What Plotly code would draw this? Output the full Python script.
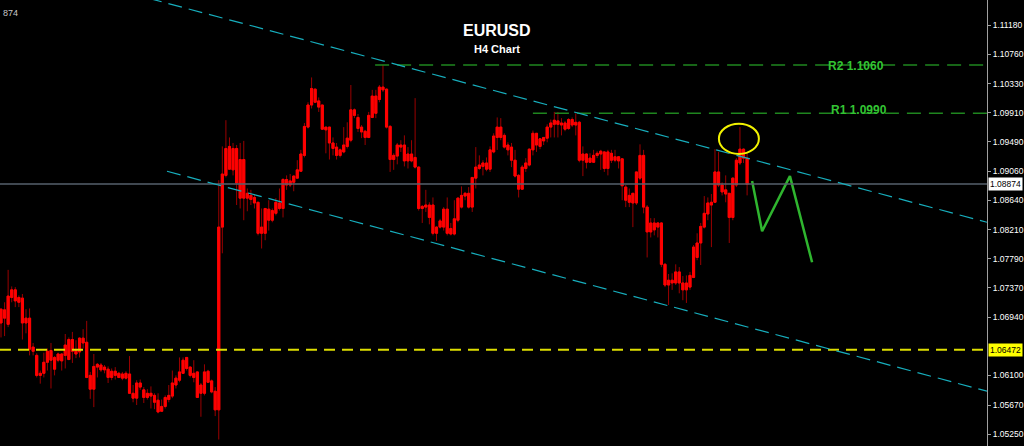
import plotly.graph_objects as go

# ---------------- data ----------------
opens = [
 1.0686,1.0705,1.0684,1.0723,1.0734,1.0716,1.0722,1.0686,1.0693,1.0645,
 1.0639,1.0610,1.0613,1.0629,1.0646,1.0636,1.0632,1.0641,1.0639,1.0633,
 1.0662,1.0646,1.0644,1.0664,1.0658,1.0610,1.0590,1.0622,1.0625,1.0618,
 1.0619,1.0607,1.0616,1.0613,1.0606,1.0613,1.0612,1.0584,1.0577,1.0599,
 1.0589,1.0578,1.0584,1.0581,1.0574,1.0558,1.0565,1.0575,1.0580,1.0596,
 1.0603,1.0613,1.0636,1.0622,1.0607,1.0615,1.0584,1.0584,1.0616,1.0602,
 1.0587,1.0560,1.0825,1.0900,1.0942,1.0908,1.0939,1.0867,1.0923,1.0867,
 1.0871,1.0868,1.0861,1.0816,1.0816,1.0851,1.0835,1.0845,1.0860,1.0852,
 1.0894,1.0886,1.0890,1.0896,1.0906,1.0929,1.0970,1.1002,1.1025,1.1008,
 1.1002,1.0966,1.0970,1.0947,1.0941,1.0929,1.0934,1.0942,1.0951,1.0995,
 1.0984,1.0970,1.0964,1.0955,1.0984,1.1015,1.1010,1.1028,1.1025,1.0971,
 1.0923,1.0928,1.0944,1.0944,1.0921,1.0931,1.0926,1.0912,1.0852,1.0854,
 1.0857,1.0857,1.0816,1.0825,1.0825,1.0851,1.0815,1.0815,1.0835,1.0854,
 1.0870,1.0874,1.0854,1.0896,1.0910,1.0913,1.0918,1.0909,1.0934,1.0955,
 1.0970,1.0958,1.0944,1.0941,1.0922,1.0900,1.0880,1.0910,1.0915,1.0937,
 1.0961,1.0942,1.0950,1.0954,1.0970,1.0974,1.0979,1.0973,1.0976,1.0968,
 1.0981,1.0973,1.0977,1.0922,1.0931,1.0919,1.0919,1.0929,1.0931,1.0934,
 1.0910,1.0932,1.0922,1.0927,1.0924,1.0883,1.0861,1.0874,1.0860,1.0896,
 1.0929,1.0854,1.0818,1.0831,1.0825,1.0831,1.0771,1.0741,1.0748,1.0744,
 1.0760,1.0744,1.0734,1.0738,1.0752,1.0781,1.0802,1.0825,1.0844,1.0857,
 1.0861,1.0905,1.0886,1.0879,1.0874,1.0839,1.0886,1.0918,1.0938,1.0925]
highs = [
 1.0707,1.0716,1.0763,1.0739,1.0738,1.0726,1.0728,1.0706,1.0707,1.0657,
 1.0642,1.0617,1.0643,1.0649,1.0657,1.0638,1.0643,1.0642,1.0670,1.0665,
 1.0673,1.0661,1.0665,1.0677,1.0689,1.0615,1.0641,1.0628,1.0628,1.0625,
 1.0623,1.0620,1.0622,1.0615,1.0615,1.0616,1.0638,1.0596,1.0603,1.0604,
 1.0593,1.0590,1.0594,1.0584,1.0584,1.0575,1.0581,1.0596,1.0617,1.0610,
 1.0636,1.0636,1.0636,1.0623,1.0632,1.0616,1.0599,1.0626,1.0618,1.0604,
 1.0593,1.0893,1.0942,1.0980,1.0955,1.0947,1.0944,1.0947,1.0950,1.0881,
 1.0879,1.0873,1.0861,1.0852,1.0852,1.0864,1.0852,1.0867,1.0881,1.0896,
 1.0900,1.0902,1.0900,1.0922,1.0937,1.0976,1.1006,1.1042,1.1026,1.1013,
 1.1002,1.0970,1.0970,1.0955,1.0947,1.0939,1.0970,1.0977,1.1031,1.0997,
 1.0989,1.0973,1.0966,1.0992,1.1024,1.1024,1.1031,1.1060,1.1026,1.0973,
 1.0932,1.0947,1.0951,1.0958,1.0941,1.0951,1.1012,1.0913,1.0857,1.0879,
 1.0861,1.0868,1.0826,1.0837,1.0854,1.0868,1.0831,1.0864,1.0868,1.0884,
 1.0876,1.0883,1.0897,1.0941,1.0929,1.0922,1.0926,1.0942,1.0961,1.0984,
 1.0983,1.0961,1.0948,1.0947,1.0937,1.0902,1.0915,1.0925,1.0939,1.0965,
 1.0961,1.0954,1.0955,1.0974,1.0981,1.0992,1.0992,1.0983,1.0979,1.0983,
 1.0984,1.0990,1.0979,1.0942,1.0932,1.0932,1.0937,1.0935,1.0937,1.0935,
 1.0937,1.0937,1.0937,1.0928,1.0925,1.0886,1.0881,1.0874,1.0905,1.0945,
 1.0937,1.0857,1.0838,1.0838,1.0832,1.0832,1.0773,1.0757,1.0758,1.0771,
 1.0767,1.0754,1.0755,1.0760,1.0799,1.0816,1.0831,1.0870,1.0868,1.0873,
 1.0938,1.0934,1.0890,1.0900,1.0874,1.0897,1.0925,1.0970,1.0939,1.0932]
lows = [
 1.0665,1.0667,1.0680,1.0716,1.0709,1.0709,1.0662,1.0671,1.0639,1.0639,
 1.0607,1.0598,1.0607,1.0617,1.0591,1.0610,1.0629,1.0617,1.0620,1.0632,
 1.0628,1.0635,1.0636,1.0649,1.0606,1.0576,1.0564,1.0607,1.0615,1.0613,
 1.0599,1.0603,1.0604,1.0606,1.0603,1.0604,1.0584,1.0571,1.0567,1.0589,
 1.0570,1.0575,1.0562,1.0561,1.0555,1.0557,1.0562,1.0571,1.0577,1.0591,
 1.0600,1.0612,1.0617,1.0607,1.0600,1.0578,1.0550,1.0581,1.0599,1.0584,
 1.0551,1.0517,1.0787,1.0897,1.0908,1.0900,1.0857,1.0852,1.0835,1.0848,
 1.0857,1.0852,1.0813,1.0794,1.0806,1.0820,1.0832,1.0842,1.0849,1.0839,
 1.0879,1.0883,1.0877,1.0896,1.0905,1.0926,1.0968,1.0997,1.1005,1.0992,
 1.0966,1.0932,1.0923,1.0929,1.0923,1.0926,1.0932,1.0939,1.0948,1.0983,
 1.0963,1.0954,1.0944,1.0954,1.0983,1.0983,1.1006,1.1021,1.0968,1.0905,
 1.0908,1.0916,1.0934,1.0913,1.0910,1.0919,1.0910,1.0849,1.0831,1.0847,
 1.0829,1.0813,1.0805,1.0823,1.0820,1.0813,1.0813,1.0813,1.0832,1.0852,
 1.0864,1.0852,1.0847,1.0881,1.0908,1.0900,1.0906,1.0905,1.0932,1.0937,
 1.0951,1.0939,1.0929,1.0912,1.0897,1.0868,1.0879,1.0905,1.0913,1.0929,
 1.0934,1.0938,1.0944,1.0948,1.0955,1.0955,1.0955,1.0958,1.0964,1.0966,
 1.0970,1.0958,1.0919,1.0899,1.0910,1.0918,1.0918,1.0925,1.0908,1.0905,
 1.0900,1.0918,1.0919,1.0910,1.0864,1.0854,1.0854,1.0825,1.0857,1.0893,
 1.0845,1.0781,1.0810,1.0813,1.0810,1.0767,1.0738,1.0712,1.0734,1.0741,
 1.0729,1.0719,1.0715,1.0734,1.0751,1.0777,1.0770,1.0823,1.0835,1.0796,
 1.0860,1.0883,1.0871,1.0861,1.0802,1.0835,1.0883,1.0915,1.0918,1.0871]
closes = [
 1.0706,1.0693,1.0725,1.0734,1.0718,1.0723,1.0686,1.0693,1.0648,1.0651,
 1.0610,1.0613,1.0629,1.0645,1.0632,1.0619,1.0641,1.0631,1.0654,1.0662,
 1.0645,1.0641,1.0664,1.0657,1.0607,1.0590,1.0623,1.0626,1.0618,1.0622,
 1.0607,1.0616,1.0610,1.0607,1.0612,1.0606,1.0584,1.0577,1.0599,1.0593,
 1.0578,1.0584,1.0580,1.0571,1.0557,1.0565,1.0578,1.0581,1.0599,1.0606,
 1.0615,1.0632,1.0620,1.0610,1.0613,1.0578,1.0596,1.0615,1.0600,1.0586,
 1.0560,1.0825,1.0902,1.0939,1.0909,1.0939,1.0889,1.0923,1.0867,1.0874,
 1.0865,1.0860,1.0816,1.0825,1.0852,1.0835,1.0849,1.0861,1.0852,1.0894,
 1.0886,1.0892,1.0899,1.0908,1.0931,1.0971,1.1002,1.1026,1.1006,1.0999,
 1.0967,1.0970,1.0947,1.0939,1.0929,1.0937,1.0944,1.0954,1.0995,1.0987,
 1.0968,1.0963,1.0955,1.0987,1.1015,1.0990,1.1028,1.1024,1.0970,1.0923,
 1.0929,1.0944,1.0941,1.0921,1.0931,1.0921,1.0912,1.0852,1.0855,1.0857,
 1.0839,1.0816,1.0825,1.0834,1.0851,1.0816,1.0823,1.0837,1.0867,1.0871,
 1.0874,1.0854,1.0897,1.0912,1.0915,1.0918,1.0909,1.0937,1.0957,1.0970,
 1.0955,1.0941,1.0937,1.0922,1.0899,1.0880,1.0912,1.0918,1.0938,1.0961,
 1.0944,1.0953,1.0955,1.0970,1.0976,1.0980,1.0974,1.0976,1.0967,1.0981,
 1.0973,1.0977,1.0922,1.0931,1.0919,1.0925,1.0929,1.0932,1.0935,1.0910,
 1.0934,1.0922,1.0927,1.0921,1.0885,1.0864,1.0871,1.0860,1.0905,1.0929,
 1.0854,1.0818,1.0831,1.0821,1.0831,1.0771,1.0741,1.0748,1.0744,1.0760,
 1.0744,1.0734,1.0744,1.0755,1.0796,1.0802,1.0826,1.0845,1.0860,1.0861,
 1.0905,1.0886,1.0876,1.0873,1.0839,1.0896,1.0922,1.0938,1.0925,1.0887]

tick_values = [1.11180, 1.10760, 1.10330, 1.09910, 1.09490, 1.09060, 1.08640,
               1.08210, 1.07790, 1.07370, 1.06940, 1.06100, 1.05670, 1.05250]
current_price = 1.08874
support_price = 1.06472
r2_price = 1.1060
r1_price = 1.0990
r2_start_bar = 104.8
r1_start_bar = 149.0
upper_channel_x = [41.2, 276.2]
upper_channel_y = [1.1157, 1.0832]
lower_channel_x = [46.5, 276.2]
lower_channel_y = [1.0906, 1.0587]
circle_x = [201.1, 212.3]
circle_y = [1.0931, 1.0975]
forecast_x = [210.4, 213.2, 221.0, 227.2]
forecast_y = [1.0892, 1.0819, 1.0899, 1.0774]
corner_label = "874"

n = len(opens)
if not (len(highs) == len(lows) == len(closes) == n):
    raise SystemExit(f"length mismatch {len(opens)} {len(highs)} {len(lows)} {len(closes)}")
bars = list(range(n))

X_RANGE = [-0.28, 276.2]
Y_RANGE = [1.05076, 1.11543]
PLOT_W, PLOT_H = 987, 446

def px(xp):
    return xp / PLOT_W

def py(yp):
    return 1 - yp / PLOT_H

fig = go.Figure()

# wicks (dark red)
fig.add_trace(go.Candlestick(
    x=bars, open=opens, high=highs, low=lows, close=closes,
    increasing=dict(line=dict(color="#9a0000", width=1), fillcolor="#9a0000"),
    decreasing=dict(line=dict(color="#9a0000", width=1), fillcolor="#9a0000"),
    whiskerwidth=0, showlegend=False, hoverinfo="skip"))

# bodies (bright red)
body_hi = [max(o, c) for o, c in zip(opens, closes)]
body_lo = [min(o, c) for o, c in zip(opens, closes)]
fig.add_trace(go.Candlestick(
    x=bars, open=opens, high=body_hi, low=body_lo, close=closes,
    increasing=dict(line=dict(color="#ff0000", width=1), fillcolor="#ff0000"),
    decreasing=dict(line=dict(color="#ff0000", width=1), fillcolor="#ff0000"),
    whiskerwidth=0, showlegend=False, hoverinfo="skip"))

# forecast zigzag
fig.add_trace(go.Scatter(x=forecast_x, y=forecast_y, mode="lines",
                         line=dict(color="#2fb52f", width=2.5),
                         showlegend=False, hoverinfo="skip"))

shapes = []
shapes.append(dict(type="line", xref="paper", yref="y", x0=0, x1=1,
                   y0=current_price, y1=current_price,
                   line=dict(color="#56616c", width=1.5)))
shapes.append(dict(type="line", xref="paper", yref="y", x0=0, x1=1,
                   y0=support_price, y1=support_price,
                   line=dict(color="#dede00", width=2, dash="11px,7px")))
shapes.append(dict(type="line", xref="x", yref="y", x0=r2_start_bar, x1=X_RANGE[1],
                   y0=r2_price, y1=r2_price,
                   line=dict(color="#1f861f", width=1.5, dash="14px,8px")))
shapes.append(dict(type="line", xref="x", yref="y", x0=r1_start_bar, x1=X_RANGE[1],
                   y0=r1_price, y1=r1_price,
                   line=dict(color="#1f861f", width=1.5, dash="14px,8px")))
shapes.append(dict(type="line", xref="x", yref="y",
                   x0=upper_channel_x[0], x1=upper_channel_x[1],
                   y0=upper_channel_y[0], y1=upper_channel_y[1],
                   line=dict(color="#17aebd", width=1.2, dash="14px,7px")))
shapes.append(dict(type="line", xref="x", yref="y",
                   x0=lower_channel_x[0], x1=lower_channel_x[1],
                   y0=lower_channel_y[0], y1=lower_channel_y[1],
                   line=dict(color="#17aebd", width=1.2, dash="14px,7px")))
shapes.append(dict(type="circle", xref="x", yref="y",
                   x0=circle_x[0], x1=circle_x[1], y0=circle_y[0], y1=circle_y[1],
                   line=dict(color="#f2f200", width=2)))

FONT = "Liberation Sans, Arial, sans-serif"
annotations = [
    dict(text="EURUSD", xref="paper", yref="paper", x=px(497), y=py(20),
         showarrow=False, font=dict(family=FONT, size=16, color="white", weight="bold")),
    dict(text="H4 Chart", xref="paper", yref="paper", x=px(497), y=py(41),
         showarrow=False, font=dict(family=FONT, size=11, color="white", weight="bold")),
    dict(text="R2 1.1060", xref="paper", yref="paper", x=px(826), y=py(57),
         xanchor="left", showarrow=False,
         font=dict(family=FONT, size=12, color="#33c433", weight="bold")),
    dict(text="R1 1.0990", xref="paper", yref="paper", x=px(829), y=py(101),
         xanchor="left", showarrow=False,
         font=dict(family=FONT, size=12, color="#33c433", weight="bold")),
    dict(text=f"{current_price:.5f}", xref="paper", yref="y", x=1, y=current_price,
         xanchor="left", xshift=1, showarrow=False, bgcolor="white", borderpad=1,
         font=dict(family=FONT, size=8.5, color="black")),
    dict(text=f"{support_price:.5f}", xref="paper", yref="y", x=1, y=support_price,
         xanchor="left", xshift=1, showarrow=False, bgcolor="#ffff00", borderpad=1,
         font=dict(family=FONT, size=8.5, color="black")),
    dict(text=corner_label, xref="paper", yref="paper", x=px(1), y=py(6),
         xanchor="left", showarrow=False,
         font=dict(family=FONT, size=9, color="#c8c8c8")),
]

fig.update_layout(
    width=1024, height=446,
    margin=dict(l=0, r=37, t=0, b=0),
    paper_bgcolor="black", plot_bgcolor="black",
    boxgap=0.15,
    shapes=shapes, annotations=annotations,
    xaxis=dict(range=X_RANGE, visible=False, rangeslider=dict(visible=False),
               showgrid=False, zeroline=False),
    yaxis=dict(range=Y_RANGE, side="right", showgrid=False, zeroline=False,
               showline=True, linecolor="#a0a0a0", linewidth=1,
               ticks="outside", ticklen=3, tickcolor="#a0a0a0",
               tickvals=tick_values, ticktext=[f"{v:.5f}" for v in tick_values],
               tickfont=dict(family=FONT, size=8.5, color="white")),
)

fig.write_html("out.html", config={"displayModeBar": False},
               post_script="document.body.style.margin='0';document.body.style.overflow='hidden';")
